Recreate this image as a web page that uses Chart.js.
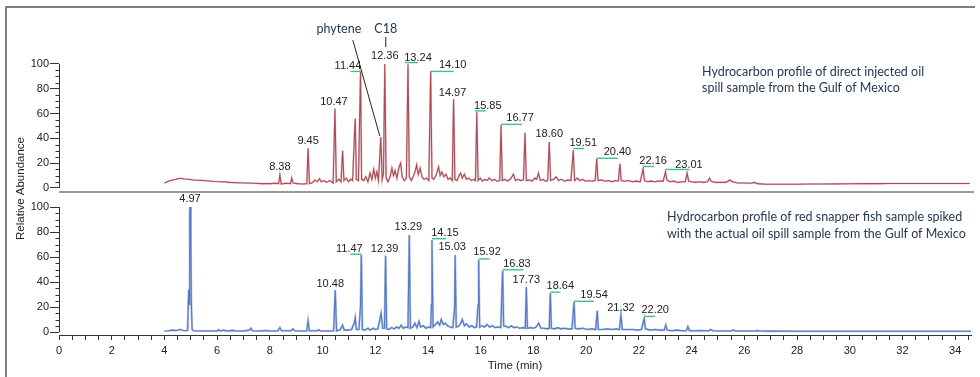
<!DOCTYPE html>
<html><head><meta charset="utf-8">
<script src="https://cdn.jsdelivr.net/npm/chart.js@4.4.1/dist/chart.umd.min.js"></script>
<style>html,body{margin:0;padding:0;background:#fff;}#wrap{width:980px;height:377px;position:relative;}</style>
</head><body><div id="wrap"><canvas id="c" width="980" height="377"></canvas></div>
<script>
// ---------- DATA ----------
const timeTickLabels = [0,2,4,6,8,10,12,14,16,18,20,22,24,26,28,30,32,34];
const abundanceTickLabels = [0,20,40,60,80,100];

// Upper trace: direct injected oil spill sample (time in min, relative abundance)
const topTimes = [4.00,4.15,4.30,4.45,4.60,4.75,4.90,5.10,5.30,5.60,5.90,6.20,6.50,6.80,7.10,7.40,7.70,8.00,8.20,8.33,8.38,8.43,8.60,8.78,8.83,8.88,9.05,9.25,9.40,9.45,9.50,9.62,9.72,9.80,9.88,9.95,10.05,10.15,10.28,10.40,10.47,10.52,10.62,10.70,10.76,10.81,10.90,10.98,11.06,11.14,11.21,11.24,11.28,11.36,11.44,11.48,11.56,11.64,11.72,11.80,11.87,11.94,12.00,12.06,12.12,12.21,12.26,12.31,12.36,12.41,12.48,12.56,12.63,12.69,12.75,12.82,12.90,12.96,13.02,13.10,13.18,13.24,13.29,13.37,13.45,13.52,13.57,13.63,13.70,13.77,13.85,13.95,14.03,14.10,14.15,14.22,14.30,14.40,14.46,14.52,14.60,14.68,14.76,14.85,14.92,14.97,15.02,15.10,15.18,15.24,15.30,15.38,15.46,15.55,15.64,15.74,15.80,15.85,15.90,15.98,16.06,16.15,16.24,16.32,16.42,16.52,16.62,16.72,16.77,16.82,16.92,17.02,17.12,17.24,17.32,17.42,17.52,17.62,17.68,17.73,17.84,17.95,18.05,18.12,18.19,18.26,18.36,18.46,18.54,18.60,18.65,18.76,18.86,18.96,19.06,19.18,19.30,19.42,19.51,19.56,19.66,19.76,19.86,19.98,20.10,20.22,20.34,20.40,20.45,20.58,20.70,20.85,20.98,21.10,21.22,21.28,21.33,21.46,21.60,21.75,21.90,22.05,22.16,22.21,22.32,22.45,22.60,22.75,22.92,23.01,23.06,23.18,23.32,23.48,23.64,23.76,23.83,23.89,24.00,24.15,24.30,24.45,24.60,24.68,24.74,24.90,25.10,25.30,25.45,25.55,25.75,26.00,26.25,26.38,26.50,26.80,27.20,27.60,28.00,28.50,29.00,29.50,30.00,30.50,31.00,31.50,32.00,32.50,33.00,33.50,34.00,34.55];
const topAbundance = [4,5.5,6.5,7,7.8,7.2,7,6.5,6.2,5.8,5.2,5,4.5,4.2,4,3.8,3.5,3.5,3.8,3.5,10.5,3.2,3.8,3.5,8,4,3.5,3.2,3.5,32,3.5,4.5,6.5,5,7.5,5,6,4.5,6,4,64,5,7,5,30,6,8,5,7,6,44,56,7,6,94,7,6,9,5,12,7,15,8,13,6,41,7,12,100,8,5,9,16,10,14,8,17,20,9,6,8,99.5,9,6,10,14,18.5,11,16,9,7,8,6,94,8,7,10,17,10,13,9,11,7,8,6,71.5,7,6,10,12,8,11,7,8,6,7,6,61,6,8,5.5,7,6,8,6,7,5.5,6,50.5,6,7,5.5,7,11,6,7,6,6.5,44.5,6,6.5,5.5,8,7,12,6,7,5.5,6,37,6,7,9,6,7,5.5,6.5,6,30.5,6,8,6,7,5.5,6,5.5,6,23.5,6,6.5,5.5,6,5,6,5.5,19.5,6,5.5,6,5,5.5,5,15.5,6,5,5.5,5,5.5,5.5,13,6.5,5,5.5,4.5,5,5,12,5.5,5,4.5,5,4.5,5,8,5.5,4.5,4.5,4.5,6.5,5,4,4,3.8,4.5,3.5,3,3,3,3,3.2,3.2,3.3,3.4,3.5,3.5,3.6,3.6,3.6,3.6,3.6,3.6,3.6];

// Lower trace: red snapper fish sample spiked with the oil spill sample
const botTimes = [4.00,4.15,4.30,4.45,4.60,4.70,4.80,4.88,4.92,4.94,4.96,4.97,5.00,5.02,5.05,5.10,5.40,5.80,6.00,6.05,6.12,6.25,6.35,6.60,6.70,7.00,7.22,7.28,7.34,7.60,7.90,8.00,8.30,8.38,8.44,8.80,8.88,8.94,9.20,9.40,9.45,9.50,9.80,9.86,9.92,10.30,10.42,10.48,10.53,10.66,10.76,10.82,10.95,11.10,11.20,11.24,11.28,11.38,11.44,11.47,11.51,11.60,11.72,11.80,11.92,12.00,12.10,12.22,12.28,12.35,12.39,12.43,12.52,12.62,12.72,12.80,12.90,12.98,13.06,13.15,13.24,13.29,13.33,13.42,13.50,13.58,13.66,13.72,13.82,13.92,14.02,14.10,14.13,14.15,14.19,14.28,14.36,14.44,14.50,14.58,14.66,14.74,14.84,14.94,15.01,15.03,15.07,15.16,15.24,15.30,15.38,15.46,15.56,15.66,15.76,15.84,15.90,15.92,15.96,16.05,16.14,16.24,16.34,16.44,16.56,16.66,16.76,16.83,16.87,16.96,17.06,17.16,17.26,17.36,17.48,17.60,17.69,17.73,17.77,17.88,18.00,18.10,18.20,18.28,18.40,18.52,18.60,18.64,18.68,18.80,18.92,19.04,19.18,19.32,19.46,19.54,19.58,19.72,19.88,20.04,20.20,20.36,20.42,20.46,20.62,20.80,20.98,21.14,21.26,21.32,21.37,21.55,21.75,21.95,22.10,22.20,22.25,22.42,22.62,22.80,22.96,23.02,23.07,23.25,23.45,23.65,23.80,23.86,23.92,24.10,24.30,24.50,24.66,24.72,24.80,25.00,25.30,25.50,25.58,25.66,26.00,26.45,26.50,26.55,27.00,28.00,29.00,30.00,31.00,32.00,33.00,34.00,34.60];
const botAbundance = [0.8,1,1.5,1.2,2,1.2,1,1.5,34,22,96,100,77,24,2,1,0.8,0.8,0.8,1.8,0.8,1.5,0.8,1.3,0.8,0.8,1.5,3,1,0.8,1.2,0.8,0.8,3.5,1,1,2.5,1,0.8,0.8,9,1,1,1.8,0.8,0.8,1,33.5,1,1.5,5.5,1.5,1.5,2,7,11.5,2,2,21,61.5,2,1.5,3,1.5,3,2,2.5,15,3,3,61,2.5,2,3.5,2.5,4,3,5.5,3,4,3.5,77.5,3,4,7,3.5,8.5,4,5,3,4,3.5,22,73.5,4,6,8,5.5,10,6,7,5,4,3.5,20,61.5,4,4.5,7,10,5,6.5,4,5,3.5,4,22,57.5,4,5,4,6,4,5,3.5,4,3.5,49,5,4.5,3.5,5,3.5,4,3,3.5,3,36,3,3.5,3,4,7,3,3,2.5,3,31,3,2.5,3.5,2.5,3,2.5,2.5,24,3,2.5,3,2,2.5,2,17,2,2,2.5,2,2.5,2,13.5,2,2,2,1.5,2,11,2.5,1.5,2,1.5,1.5,5.5,1.5,1,1.5,1,1,4.3,1,1,1.2,1,1,2,1,0.8,0.8,0.8,1.6,0.8,0.8,0.8,1.2,0.8,0.7,0.6,0.6,0.6,0.6,0.6,0.6,0.6,0.6];

// Peak retention-time labels
const topPeakLabels = ['8.38','9.45','10.47','11.44','12.36','13.24','14.10','14.97','15.85','16.77','18.60','19.51','20.40','22.16','23.01'];
const botPeakLabels = ['4.97','10.48','11.47','12.39','13.29','14.15','15.03','15.92','16.83','17.73','18.64','19.54','21.32','22.20'];
const phyteneTime = 12.21, c18Time = 12.36;
const topNote = ['Hydrocarbon profile of direct injected oil','spill sample from the Gulf of Mexico'];
const botNote = ['Hydrocarbon profile of red snapper fish sample spiked','with the actual oil spill sample from the Gulf of Mexico'];

// ---------- LAYOUT / STYLE ----------
const topLabelOffsets = [[0,-8],[0,-7],[-1,-7],[-12.6,-5],[0,-8.5],[10,-7],[22,-6],[-1,-6.5],[11,-6.5],[19,-7],[0,-7.7],[10,-7.6],[20.7,-6.6],[10,-8.3],[23.4,-7.4]];
const botLabelOffsets = [[0,-8],[-5,-6],[-12,-6],[-1,-7],[-1,-8.3],[13,-7.4],[-3,-8.3],[8.4,-7.7],[14.3,-7],[0,-7.3],[10,-7.6],[20,-6.7],[0,-6.7],[11,-8.3]];
const topGreens = [[3,-10,1,5],[5,-3,10,5],[6,0,23,6],[8,-2,9,5],[9,0,21,6],[11,0,11,6],[12,0,21,6],[13,0,11,6],[14,0,24,5]];
const botGreens = [[2,-11,0,5],[5,0,14,6],[7,0,11,6.5],[8,0,21,6],[10,0,10,6.5],[11,0,20,6],[13,1,11,6.5]];
const NUM_FONT = '11px "Liberation Sans Narrow", "Liberation Sans", Arial, sans-serif';
const AX_FONT = '11.5px "Liberation Sans", Arial, sans-serif';
const NOTE_FONT = '12.5px Lato, "Open Sans", sans-serif';
const TXT = '#222';

const toXY = (ts, vs) => ts.map((t, i) => ({x: t, y: vs[i]}));
const topData = toXY(topTimes, topAbundance);
const botData = toXY(botTimes, botAbundance);
const apexOf = (ts, vs, label) => { const t = parseFloat(label); return vs[ts.indexOf(t)]; };

const annot = {
  id: 'annot',
  afterDraw(chart) {
    const c = chart.ctx, xs = chart.scales.x, yt = chart.scales.yTop, yb = chart.scales.yBot;
    const L = chart.chartArea.left, R = chart.chartArea.right;
    c.save();
    // frame
    c.strokeStyle = '#555'; c.lineWidth = 1.5;
    c.beginPath(); c.moveTo(6, 377); c.lineTo(6, 7); c.lineTo(975, 7); c.stroke();
    // separator between the panels
    c.strokeStyle = '#9a9a9a'; c.lineWidth = 2;
    c.beginPath(); c.moveTo(L, yt.bottom); c.lineTo(R + 3, yt.bottom); c.stroke();
    // y axis lines + minor ticks
    c.strokeStyle = '#333'; c.lineWidth = 1;
    [yt, yb].forEach(ys => {
      const x = Math.round(L) + 0.5;
      c.beginPath(); c.moveTo(x, ys.getPixelForValue(0)); c.lineTo(x, ys.getPixelForValue(100)); c.stroke();
      for (let v = 5; v < 100; v += 5) {
        if (v % 20 === 0) continue;
        const y = Math.round(ys.getPixelForValue(v)) + 0.5;
        c.beginPath(); c.moveTo(x - 4, y); c.lineTo(x, y); c.stroke();
      }
    });
    // peak labels
    c.font = NUM_FONT; c.fillStyle = TXT; c.textAlign = 'center'; c.textBaseline = 'middle';
    const drawLabels = (labels, offs, greens, ts, vs, ys) => {
      const pos = labels.map((lab, i) => {
        const t = parseFloat(lab), h = apexOf(ts, vs, lab);
        const px = xs.getPixelForValue(t), py = ys.getPixelForValue(h);
        return {px, py, lx: px + offs[i][0], ly: py + offs[i][1]};
      });
      c.strokeStyle = '#3ec47e'; c.lineWidth = 1.4;
      greens.forEach(g => {
        const p = pos[g[0]];
        c.beginPath(); c.moveTo(p.px + g[1], p.ly + g[3]); c.lineTo(p.px + g[2], p.ly + g[3]); c.stroke();
      });
      labels.forEach((lab, i) => c.fillText(lab, pos[i].lx, pos[i].ly));
    };
    drawLabels(topPeakLabels, topLabelOffsets, topGreens, topTimes, topAbundance, yt);
    drawLabels(botPeakLabels, botLabelOffsets, botGreens, botTimes, botAbundance, yb);
    // phytene + C18 markers
    const phX = xs.getPixelForValue(phyteneTime), phY = yt.getPixelForValue(apexOf(topTimes, topAbundance, String(phyteneTime)));
    const cX = xs.getPixelForValue(c18Time), cY = yt.getPixelForValue(apexOf(topTimes, topAbundance, String(c18Time)));
    c.strokeStyle = '#222'; c.lineWidth = 1;
    c.beginPath(); c.moveTo(phX - 28, phY - 97); c.lineTo(phX - 1, phY - 1); c.stroke();
    c.beginPath(); c.moveTo(cX + 1, cY - 27); c.lineTo(cX + 1, cY - 17); c.stroke();
    c.font = '12.5px Lato, "Open Sans", sans-serif'; c.fillStyle = '#263850';
    c.fillText('phytene', phX - 42, phY - 108);
    c.fillText('C18', cX + 1, cY - 35);
    // notes
    c.font = NOTE_FONT; c.textAlign = 'left';
    c.fillText(topNote[0], 702, 72); c.fillText(topNote[1], 702, 88);
    c.fillText(botNote[0], 667, 217); c.fillText(botNote[1], 667, 233.5);
    // axis titles
    c.font = AX_FONT; c.fillStyle = TXT; c.textAlign = 'center';
    c.fillText('Time (min)', 515, 366);
    c.translate(20.5, 188.5); c.rotate(-Math.PI / 2); c.fillText('Relative Abundance', 0, 0);
    c.restore();
  }
};

const yCommon = (w) => ({
  type: 'linear', position: 'left', stack: 'panels', stackWeight: w, offset: false,
  afterBuildTicks: s => { s.ticks = abundanceTickLabels.map(v => ({value: v})); },
  afterFit: s => { s.width = 59; },
  grid: {drawOnChartArea: false, drawTicks: true, tickLength: 9, color: '#333', lineWidth: 1},
  border: {display: false},
  ticks: {font: {family: '"Liberation Sans Narrow", "Liberation Sans", Arial, sans-serif', size: 11}, color: TXT, padding: 1}
});

new Chart(document.getElementById('c'), {
  type: 'line',
  data: {datasets: [
    {data: topData, yAxisID: 'yTop', borderColor: 'rgba(210,140,148,0.45)', borderWidth: 2, pointRadius: 0, tension: 0},
    {data: topData, yAxisID: 'yTop', borderColor: '#8a1622', borderWidth: 1.1, pointRadius: 0, tension: 0},
    {data: botData, yAxisID: 'yBot', borderColor: 'rgba(125,158,215,0.6)', borderWidth: 2.2, pointRadius: 0, tension: 0},
    {data: botData, yAxisID: 'yBot', borderColor: '#1b4099', borderWidth: 1.1, pointRadius: 0, tension: 0}
  ]},
  options: {
    responsive: false, animation: false,
    layout: {padding: {top: 29, right: 9, left: 0, bottom: 0}},
    plugins: {legend: {display: false}, tooltip: {enabled: false}},
    scales: {
      x: {
        type: 'linear', min: 0, max: 34.6,
        afterBuildTicks: s => { const t = []; for (let v = 0; v <= 34.5; v += 0.5) t.push({value: v}); s.ticks = t; },
        afterFit: s => { s.height = 42; },
        grid: {drawOnChartArea: false, tickLength: 5, color: '#333'},
        border: {display: true, color: '#333', width: 1},
        ticks: {autoSkip: false, maxRotation: 0, padding: 4, color: TXT,
          font: {family: '"Liberation Sans Narrow", "Liberation Sans", Arial, sans-serif', size: 11},
          callback: v => timeTickLabels.includes(v) ? String(v) : ''}
      },
      yBot: Object.assign(yCommon(143), {min: -2.4, max: 112}),
      yTop: Object.assign(yCommon(163), {min: -3.23, max: 128.2})
    }
  },
  plugins: [annot]
});
</script>
</body></html>
